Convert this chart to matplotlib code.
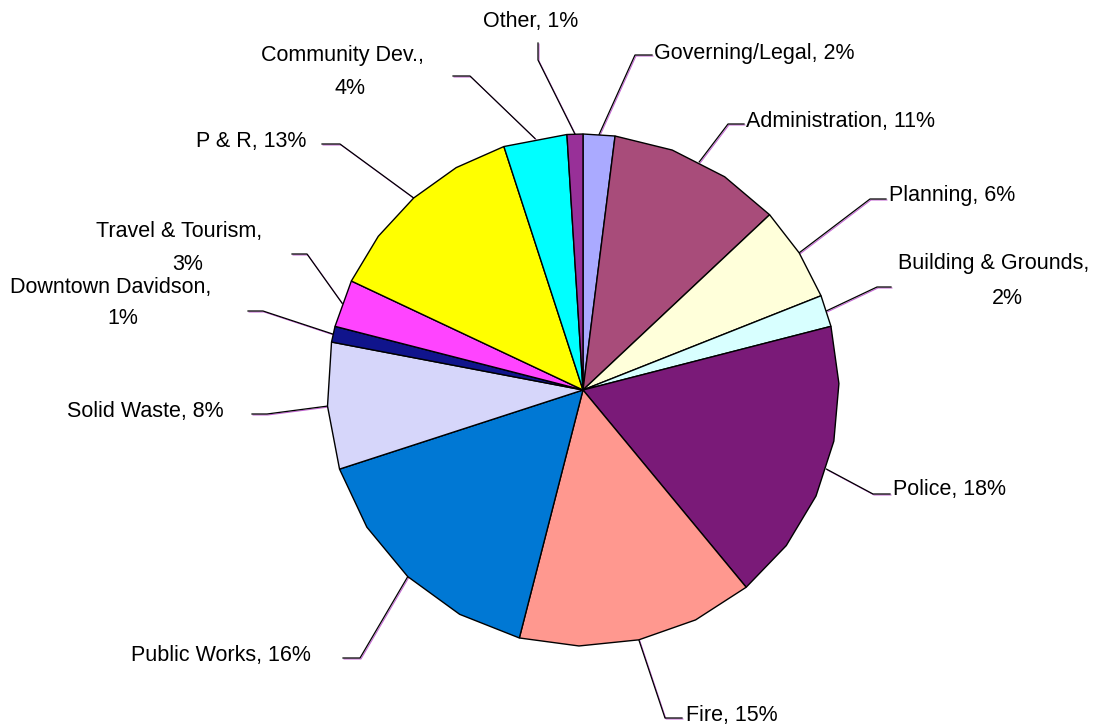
import math

import matplotlib
matplotlib.use("Agg")
import matplotlib.pyplot as plt
import matplotlib.transforms as mtransforms
import numpy as np

plt.rcParams["font.family"] = ["Liberation Sans", "DejaVu Sans"]

# budget share by department, clockwise from 12 o'clock
departments = [
    "Governing/Legal", "Administration", "Planning", "Building & Grounds",
    "Police", "Fire", "Public Works", "Solid Waste", "Downtown Davidson",
    "Travel & Tourism", "P & R", "Community Dev.", "Other",
]
shares = [2, 11, 6, 2, 18, 15, 16, 8, 1, 3, 13, 4, 1]
colors = [
    "#AAAAFF", "#A84C7A", "#FFFFDA", "#D8FFFF", "#7A1A78", "#FF988F",
    "#0078D4", "#D6D6FA", "#10148C", "#FF44FF", "#FFFF00", "#00FFFF",
    "#983098",
]

# label layout in pixel coords: elbow of leader, end of leader, text anchor(s)
# wrapped labels get two centred lines: "name," then "pct%"
layout = [
    dict(elbow=(635, 55), end=(652, 55), text=[(654, 53, "left")]),
    dict(elbow=(728, 124), end=(744, 124), text=[(746, 121, "left")]),
    dict(elbow=(870, 199), end=(886, 199), text=[(889, 195, "left")]),
    dict(elbow=(877, 287), end=(891, 287), text=[(994, 263, "center"), (1007, 299, "center")]),
    dict(elbow=(873, 494), end=(890, 494), text=[(893, 490, "left")]),
    dict(elbow=(665, 718), end=(682, 718), text=[(686, 715, "left")]),
    dict(elbow=(360, 658), end=(343, 658), text=[(311, 655, "right")]),
    dict(elbow=(267, 414), end=(252, 414), text=[(224, 412, "right")]),
    dict(elbow=(263, 311), end=(248, 311), text=[(111, 287, "center"), (123, 318, "center")]),
    dict(elbow=(307, 254), end=(292, 254), text=[(179, 232, "center"), (188, 265, "center")]),
    dict(elbow=(340, 144), end=(322, 144), text=[(306, 141, "right")]),
    dict(elbow=(470, 76), end=(453, 76), text=[(342, 55, "center"), (350, 88, "center")]),
    dict(elbow=(538, 60), end=(538, 43), text=[(531, 22, "center")]),
]

W, H = 1099, 728
cx, cy, radius = 583, 390, 256

fig = plt.figure(figsize=(W / 100, H / 100), dpi=100)
ax = fig.add_axes([0, 0, 1, 1])
ax.set_xlim(0, W)
ax.set_ylim(H, 0)
ax.set_axis_off()


def polar(angle_deg, r=radius):
    a = np.radians(angle_deg)
    return cx + r * np.cos(a), cy - r * np.sin(a)


shadow = mtransforms.offset_copy(ax.transData, fig=fig, x=1, y=-1, units="dots")

start = 90.0
for name, share, color, lay in zip(departments, shares, colors, layout):
    span = share * 3.6
    # faceted rim: the arc is drawn as short chords
    nseg = max(1, math.ceil(span / 15))
    angles = np.linspace(start, start - span, nseg + 1)
    xs, ys = polar(angles)
    ax.fill(np.r_[cx, xs], np.r_[cy, ys], facecolor=color,
            edgecolor="black", linewidth=1.0, zorder=3)

    # leader line from the middle of the slice rim
    mx, my = polar(start - span / 2)
    lx = [mx, lay["elbow"][0], lay["end"][0]]
    ly = [my, lay["elbow"][1], lay["end"][1]]
    ax.plot(lx, ly, color="#C05CD0", linewidth=0.7, transform=shadow, zorder=1)
    ax.plot(lx, ly, color="black", linewidth=0.9, zorder=2)

    if len(lay["text"]) == 1:
        tx, ty, ha = lay["text"][0]
        ax.text(tx, ty, f"{name}, {share}%", ha=ha, va="center", fontsize=15.5)
    else:
        parts = [f"{name},", f"{share}%"]
        for (tx, ty, ha), part in zip(lay["text"], parts):
            ax.text(tx, ty, part, ha=ha, va="center", fontsize=15.5)

    start -= span

fig.savefig("out.png", dpi=100, facecolor="white")
